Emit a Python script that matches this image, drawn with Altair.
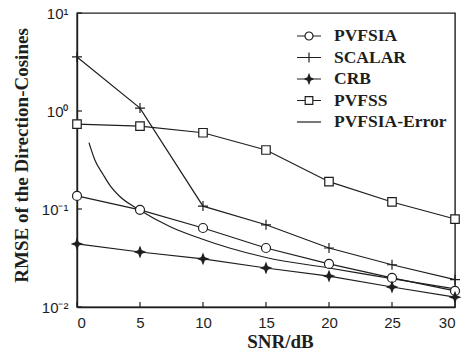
import altair as alt
import pandas as pd

# ---- data ----
snr = [0, 5, 10, 15, 20, 25, 30]
pvfsia = [0.136, 0.098, 0.064, 0.040, 0.0275, 0.0198, 0.0146]
scalar = [3.56, 1.07, 0.107, 0.069, 0.040, 0.027, 0.019]
crb = [0.044, 0.0364, 0.031, 0.025, 0.0207, 0.016, 0.0126]
pvfss = [0.735, 0.70, 0.60, 0.40, 0.19, 0.118, 0.079]
err_snr = [0.95, 1.4, 2.1, 2.6, 3.4, 4.9, 7.4, 9.8, 12.1, 15, 20, 25, 30]
err_vals = [0.475, 0.32, 0.222, 0.175, 0.134, 0.099, 0.066, 0.050, 0.040, 0.032, 0.025, 0.0195, 0.0153]

names = ["PVFSIA", "SCALAR", "CRB", "PVFSS", "PVFSIA-Error"]
x_ticks = [0, 5, 10, 15, 20, 25, 30]
y_ticks = [0.01, 0.1, 1, 10]

rows = []
for name, vals in [("PVFSIA", pvfsia), ("SCALAR", scalar), ("CRB", crb), ("PVFSS", pvfss)]:
    for x, v in zip(snr, vals):
        rows.append({"snr": x, "rmse": v, "series": name})
for x, v in zip(err_snr, err_vals):
    rows.append({"snr": x, "rmse": v, "series": "PVFSIA-Error"})
df = pd.DataFrame(rows)

W, H = 378, 294
INK = "#1e1e1e"
SERIF = "Liberation Serif"
SANS = "Liberation Sans"

x_enc = alt.X(
    "snr:Q",
    title="SNR/dB",
    scale=alt.Scale(domain=[0, 30], nice=False, zero=False),
    axis=alt.Axis(values=x_ticks, format="d", ticks=False, labelPadding=8,
                  labelFont=SANS, labelFontSize=15, labelColor=INK,
                  titleFont=SERIF, titleFontSize=19, titleFontWeight="bold",
                  titleColor=INK, titleX=203, titleY=40, titleBaseline="alphabetic",
                  titleAlign="center", grid=False),
)
y_enc = alt.Y(
    "rmse:Q",
    title="RMSE of the Direction-Cosines",
    scale=alt.Scale(type="log", domain=[0.01, 10], nice=False),
    axis=alt.Axis(values=y_ticks, ticks=False, labelPadding=9,
                  labelExpr="datum.value >= 9 ? '10¹' : datum.value >= 0.9 ? '10⁰' : datum.value >= 0.09 ? '10⁻¹' : '10⁻²'",
                  labelFont=SANS, labelFontSize=15, labelColor=INK,
                  titleFont=SERIF, titleFontSize=19, titleFontWeight="bold",
                  titleColor=INK, titleX=-56, titleY=142, titleAngle=-90,
                  titleAlign="center", titleBaseline="middle", grid=False),
)

base = alt.Chart(df)

lines = base.transform_filter(alt.datum.series != "PVFSIA-Error").mark_line(
    color=INK, strokeWidth=1.2
).encode(x=x_enc, y=y_enc, detail="series:N")

err_line = base.transform_filter(alt.datum.series == "PVFSIA-Error").mark_line(
    color=INK, strokeWidth=1.2, interpolate="monotone"
).encode(x=x_enc, y=y_enc)

CIRCLE = "M-1,0A1,1 0 1,0 1,0A1,1 0 1,0 -1,0Z"
PLUS = "M-1,0H1M0,-1V1"
STAR = "M0,-1L0.28,-0.28L1,0L0.28,0.28L0,1L-0.28,0.28L-1,0L-0.28,-0.28Z"
SQUARE = "M-1,-1H1V1H-1Z"

marker_specs = [
    ("PVFSIA", CIRCLE, 81, "white"),
    ("SCALAR", PLUS, 100, "transparent"),
    ("CRB", STAR, 90, INK),
    ("PVFSS", SQUARE, 72, "white"),
]
markers = []
for name, shape, size, fill in marker_specs:
    markers.append(
        base.transform_filter(alt.datum.series == name)
        .mark_point(shape=shape, size=size, fill=fill, fillOpacity=1,
                    stroke=INK, strokeWidth=1.2, opacity=1)
        .encode(x=x_enc, y=y_enc)
    )

# legend-only layer (no rows drawn)
LEG_CIRCLE = "M-1.2,0H-0.4M0.4,0H1.2M-0.4,0A0.4,0.4 0 1,0 0.4,0A0.4,0.4 0 1,0 -0.4,0Z"
LEG_PLUS = "M-1.2,0H1.2M0,-0.5V0.5"
LEG_STAR = "M-1.2,0H1.2M0,-0.45L0.12,-0.12L0.45,0L0.12,0.12L0,0.45L-0.12,0.12L-0.45,0L-0.12,-0.12Z"
LEG_SQUARE = "M-1.2,0H-0.38M0.38,0H1.2M-0.38,-0.38H0.38V0.38H-0.38Z"
LEG_LINE = "M-1.2,0H1.2"
leg_paths = [LEG_CIRCLE, LEG_PLUS, LEG_STAR, LEG_SQUARE, LEG_LINE]
leg_fills = ["white", "transparent", INK, "white", "transparent"]
leg_strokes = [INK] * 5

leg = alt.Legend(title=None, orient="none", legendX=221, legendY=12,
                 labelFont=SERIF, labelFontSize=17.5, labelFontWeight="bold",
                 labelColor=INK, symbolSize=400, symbolStrokeWidth=1.2,
                 rowPadding=1.5, labelOffset=14, padding=0)

legend_layer = base.transform_filter("datum.rmse < 0").mark_point(
    strokeWidth=1.2, opacity=1, fillOpacity=1, strokeOpacity=1
).encode(
    x=x_enc, y=y_enc,
    shape=alt.Shape("series:N", scale=alt.Scale(domain=names, range=leg_paths), legend=leg),
    fill=alt.Fill("series:N", scale=alt.Scale(domain=names, range=leg_fills), legend=leg),
    stroke=alt.Stroke("series:N", scale=alt.Scale(domain=names, range=leg_strokes), legend=leg),
)

tick_x = alt.Chart(pd.DataFrame({"snr": x_ticks})).mark_rule(color=INK, strokeWidth=1.2).encode(
    x=x_enc, y=alt.value(H), y2=alt.value(H - 5)
)
tick_y = alt.Chart(pd.DataFrame({"rmse": y_ticks})).mark_rule(color=INK, strokeWidth=1.2).encode(
    y=y_enc, x=alt.value(0), x2=alt.value(5)
)

chart = alt.layer(lines, err_line, *markers, legend_layer, tick_x, tick_y).properties(
    width=W, height=H,
    padding={"left": 77, "top": 13, "right": 18, "bottom": 44},
    autosize=alt.AutoSizeParams(type="none"),
    background="white",
).configure_view(
    stroke=INK, strokeWidth=1.4
).configure_axis(
    domainColor=INK, domainWidth=1.4
).configure_legend(
    labelFont=SERIF, labelFontSize=17.5, labelFontWeight="bold", labelColor=INK
)

chart.save("out.html", embed_options={"renderer": "svg", "actions": False})
